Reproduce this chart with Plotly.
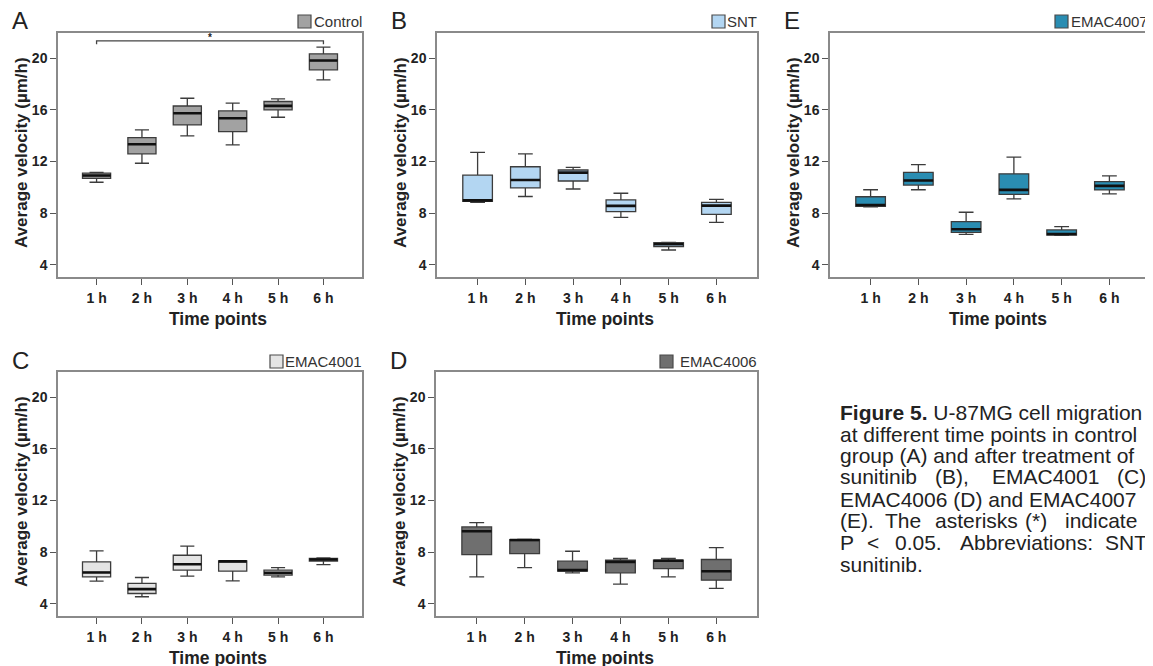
import plotly.graph_objects as go

W, H = 1153, 666
OFF = 8  # page body margin offset compensation

categories = ["1 h", "2 h", "3 h", "4 h", "5 h", "6 h"]
y_ticks = [4, 8, 12, 16, 20]

# Control (A)
ctrl_upper = [11.17, 14.45, 16.90, 16.52, 16.85, 20.85]
ctrl_q3 = [11.10, 13.86, 16.30, 15.92, 16.65, 20.34]
ctrl_med = [10.92, 13.34, 15.74, 15.35, 16.31, 19.82]
ctrl_q1 = [10.70, 12.60, 14.84, 14.32, 16.00, 19.10]
ctrl_lower = [10.40, 11.87, 13.99, 13.29, 15.43, 18.32]

# SNT (B)
snt_upper = [12.72, 12.59, 11.56, 9.55, 5.75, 9.08]
snt_q3 = [10.95, 11.60, 11.35, 9.03, 5.73, 8.85]
snt_med = [9.00, 10.58, 11.15, 8.57, 5.60, 8.59]
snt_q1 = [8.92, 9.96, 10.50, 8.13, 5.42, 7.92]
snt_lower = [8.85, 9.30, 9.88, 7.69, 5.16, 7.30]

# EMAC4007 (E)
e4007_upper = [9.82, 11.76, 8.08, 12.34, 6.97, 10.89]
e4007_q3 = [9.28, 11.16, 7.35, 11.05, 6.71, 10.45]
e4007_med = [8.64, 10.54, 6.76, 9.81, 6.40, 10.12]
e4007_q1 = [8.54, 10.18, 6.53, 9.47, 6.32, 9.81]
e4007_lower = [8.50, 9.82, 6.37, 9.11, 6.30, 9.50]

# EMAC4001 (C)
e4001_upper = [8.11, 6.05, 8.47, 7.35, 6.82, 7.57]
e4001_q3 = [7.26, 5.59, 7.77, 7.34, 6.62, 7.52]
e4001_med = [6.44, 5.15, 7.08, 7.30, 6.41, 7.44]
e4001_q1 = [6.10, 4.81, 6.62, 6.54, 6.23, 7.31]
e4001_lower = [5.77, 4.56, 6.15, 5.79, 6.10, 7.05]

# EMAC4006 (D)
e4006_upper = [10.30, 9.00, 8.08, 7.52, 7.52, 8.36]
e4006_q3 = [9.96, 8.98, 7.31, 7.39, 7.39, 7.44]
e4006_med = [9.63, 8.95, 6.62, 7.26, 7.34, 6.53]
e4006_q1 = [7.82, 7.90, 6.54, 6.41, 6.74, 5.84]
e4006_lower = [6.10, 6.82, 6.41, 5.53, 6.10, 5.20]

# significance bracket (Control, 1 h vs 6 h)
bracket_x = ["1 h", "1 h", "6 h", "6 h"]
bracket_y = [21.08, 21.34, 21.34, 21.08]
star_y = 21.62


def px(x):
    return (x - OFF) / W


def py(y):
    return 1 - (y - OFF) / H


panels = [
    dict(name="Control", letter="A", stats=(ctrl_lower, ctrl_q1, ctrl_med, ctrl_q3, ctrl_upper),
         color="#a2a2a2", frame=(58, 362, 33, 277), ax=""),
    dict(name="SNT", letter="B", stats=(snt_lower, snt_q1, snt_med, snt_q3, snt_upper),
         color="#b3d6f2", frame=(437, 757, 33, 277), ax="2"),
    dict(name="EMAC4007", letter="E", stats=(e4007_lower, e4007_q1, e4007_med, e4007_q3, e4007_upper),
         color="#2a8db2", frame=(830, 1150, 33, 277), ax="3"),
    dict(name="EMAC4001", letter="C", stats=(e4001_lower, e4001_q1, e4001_med, e4001_q3, e4001_upper),
         color="#e4e4e4", frame=(58, 362, 372, 616), ax="4"),
    dict(name="EMAC4006", letter="D", stats=(e4006_lower, e4006_q1, e4006_med, e4006_q3, e4006_upper),
         color="#6f6f6f", frame=(436, 757, 372, 616), ax="5"),
]

swatch_px = {
    "Control": (298, 311, 15, 28),
    "SNT": (712, 725, 15, 28),
    "EMAC4007": (1055, 1068, 15, 28),
    "EMAC4001": (270, 283, 355, 368),
    "EMAC4006": (660, 673, 355, 368),
}

FONT = "Liberation Sans, Arial, sans-serif"
fig = go.Figure()
layout = dict(
    width=W, height=H, autosize=False,
    margin=dict(l=0, r=0, t=0, b=0, autoexpand=False),
    paper_bgcolor="white", plot_bgcolor="white",
    showlegend=False, boxmode="overlay",
    font=dict(family=FONT, color="#222222"),
)
annotations = []
shapes = []

for p in panels:
    lo, q1, med, q3, up = p["stats"]
    xa = "x" + p["ax"]
    ya = "y" + p["ax"]
    fig.add_trace(go.Box(
        x=categories, lowerfence=lo, q1=q1, median=med, q3=q3, upperfence=up,
        fillcolor=p["color"], line=dict(color="#3c3c3c", width=1.3),
        width=0.62, whiskerwidth=0.5, boxpoints=False, hoverinfo="skip",
        xaxis=xa, yaxis=ya,
    ))
    # thick median line
    fig.add_trace(go.Box(
        x=categories, lowerfence=med, q1=med, median=med, q3=med, upperfence=med,
        fillcolor="#111111", line=dict(color="#111111", width=2.6),
        width=0.62, whiskerwidth=0, boxpoints=False, hoverinfo="skip",
        xaxis=xa, yaxis=ya,
    ))
    x0, x1, y0, y1 = p["frame"]
    axis_common = dict(
        showline=True, mirror=True, linecolor="#8a8a8a", linewidth=1.5,
        ticks="outside", ticklen=6, tickwidth=1.4, tickcolor="#555555",
        showgrid=False, zeroline=False, fixedrange=True,
        tickfont=dict(family=FONT, size=14, color="#222222", weight="bold"),
    )
    layout["xaxis" + p["ax"]] = dict(
        axis_common, domain=[px(x0), px(x1)], anchor=ya,
        type="category", categoryorder="array", categoryarray=categories,
        range=[-0.85, 5.85], ticklabelstandoff=1,
    )
    layout["yaxis" + p["ax"]] = dict(
        axis_common, domain=[py(y1), py(y0)], anchor=xa,
        range=[3.07, 21.95], tickvals=y_ticks, ticklabelstandoff=0,
    )
    annotations.append(dict(
        text=p["letter"], x=px(x0 - 38), y=py(y0 - 12), xref="paper", yref="paper",
        xanchor="center", yanchor="middle", showarrow=False,
        font=dict(family=FONT, size=24, color="#222222"),
    ))
    annotations.append(dict(
        text="Average velocity (µm/h)", x=px(x0 - 37), y=py((y0 + y1) / 2 - 2),
        xref="paper", yref="paper", textangle=-90,
        xanchor="center", yanchor="middle", showarrow=False,
        font=dict(family=FONT, size=17, color="#222222", weight="bold"),
    ))
    annotations.append(dict(
        text="Time points", x=px((x0 + x1) / 2 + 8), y=py(y1 + 42),
        xref="paper", yref="paper", xanchor="center", yanchor="middle", showarrow=False,
        font=dict(family=FONT, size=17.5, color="#222222", weight="bold"),
    ))
    annotations.append(dict(
        text=p["name"], x=px(min(x1 + 2, 1150)), y=py(y0 - 11), xref="paper", yref="paper",
        xanchor="right", yanchor="middle", showarrow=False,
        font=dict(family=FONT, size=15, color="#333333"),
    ))
    sx0, sx1, sy0, sy1 = swatch_px[p["name"]]
    shapes.append(dict(
        type="rect", xref="paper", yref="paper",
        x0=px(sx0), x1=px(sx1), y0=py(sy1), y1=py(sy0),
        fillcolor=p["color"], line=dict(color="#4a4a4a", width=1.2),
    ))

# significance bracket on Control panel
fig.add_trace(go.Scatter(
    x=bracket_x, y=bracket_y, mode="lines", line=dict(color="#444444", width=1.3),
    hoverinfo="skip", xaxis="x", yaxis="y",
))
annotations.append(dict(
    text="*", x=2.5, y=star_y, xref="x", yref="y", showarrow=False,
    font=dict(family=FONT, size=10, color="#222222", weight="bold"),
))

# caption (justified text reproduced line by line / word by word)
CAP = dict(family=FONT, size=21, color="#222222")
caption_lines = [
    (412, [(838, "<b>Figure 5.</b> U-87MG cell migration")]),
    (434, [(838, "at different time points in control")]),
    (455, [(838, "group (A) and after treatment of")]),
    (477, [(838, "sunitinib"), (933, "(B),"), (990, "EMAC4001"), (1115, "(C),")]),
    (499, [(838, "EMAC4006 (D) and EMAC4007")]),
    (520, [(838, "(E)."), (883, "The"), (933, "asterisks"), (1023, "(*)"), (1063, "indicate")]),
    (542, [(838, "P"), (865, "&lt;"), (893, "0.05."), (958, "Abbreviations:"), (1103, "SNT,")]),
    (564, [(838, "sunitinib.")]),
]
for yy, words in caption_lines:
    for xx, t in words:
        annotations.append(dict(
            text=t, x=px(xx), y=py(yy), xref="paper", yref="paper",
            xanchor="left", yanchor="middle", showarrow=False, font=CAP,
        ))

layout["annotations"] = annotations
layout["shapes"] = shapes
fig.update_layout(**layout)
fig.write_html("out.html")
